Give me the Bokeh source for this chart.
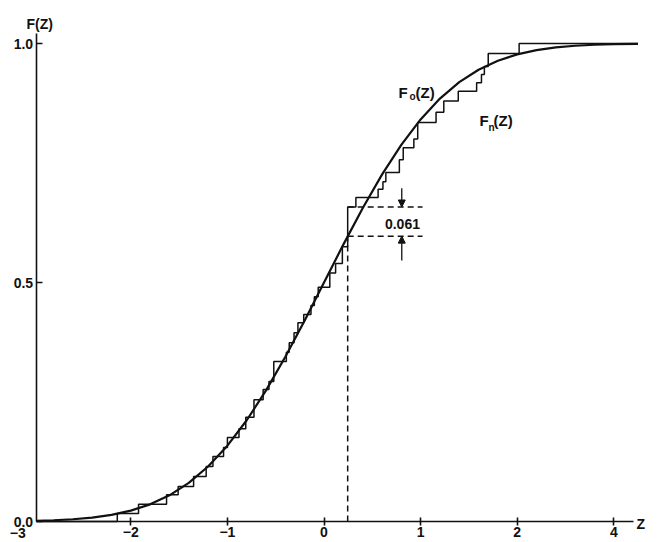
from bokeh.plotting import figure
from bokeh.models import Label, Arrow, NormalHead, FixedTicker, Range1d
from bokeh.embed import file_html
from bokeh.resources import INLINE

# ---------------- data ----------------
# F_o(Z): the smooth curve
curve_z = [-2.98, -2.8, -2.6, -2.4, -2.2, -2.0, -1.8, -1.6, -1.4, -1.2, -1.0, -0.8,
           -0.6, -0.4, -0.2, 0.0, 0.2, 0.4, 0.6, 0.8, 1.0, 1.2, 1.4, 1.6, 1.8, 2.0,
           2.2, 2.4, 2.6, 2.8, 3.0, 3.25]
curve_F = [0.0014, 0.0026, 0.0047, 0.0082, 0.0139, 0.0228, 0.0359, 0.0548, 0.0808,
           0.1151, 0.1587, 0.2119, 0.2743, 0.3446, 0.4207, 0.5, 0.5793, 0.6554,
           0.7257, 0.7881, 0.8413, 0.8849, 0.9192, 0.9452, 0.9641, 0.9772, 0.9861,
           0.9918, 0.9953, 0.9974, 0.9987, 0.9994]

# F_n(Z): empirical step function (jump positions and level after each jump)
step_z = [-2.14, -1.92, -1.63, -1.51, -1.35, -1.22, -1.15, -1.04, -1.00, -0.88,
          -0.81, -0.725, -0.63, -0.57, -0.52, -0.39, -0.36, -0.31, -0.27, -0.21,
          -0.135, -0.10, -0.06, 0.06, 0.12, 0.19, 0.245, 0.33, 0.56, 0.61, 0.64,
          0.78, 0.82, 0.93, 0.97, 1.16, 1.24, 1.39, 1.58, 1.63, 1.66, 1.70, 2.02]
step_F = [0.017, 0.036, 0.056, 0.073, 0.094, 0.115, 0.136, 0.155, 0.176, 0.194,
          0.218, 0.255, 0.276, 0.293, 0.335, 0.354, 0.374, 0.395, 0.416, 0.433,
          0.452, 0.470, 0.490, 0.520, 0.540, 0.575, 0.658, 0.678, 0.695, 0.711,
          0.730, 0.757, 0.782, 0.800, 0.835, 0.856, 0.880, 0.900, 0.918, 0.935,
          0.952, 0.979, 1.000]

x_ticks = [-2, -1, 0, 1, 2, 3]
x_tick_labels = ["\u22122", "\u22121", "0", "1", "2", "4"]
y_ticks = [0, 0.5, 1]
y_tick_labels = ["0.0", "0.5", "1.0"]

# maximum deviation marker
d_z = 0.245
d_F0 = 0.597
d_Fn = 0.658
d_z_end = 1.02
d_text = "0.061"
arrow_z = 0.805
arrow_top_start = 0.697
arrow_bot_start = 0.546

Z_AXIS_START, Z_AXIS_END = -2.98, 3.2
Z_CURVE_END = 3.25
F_AXIS_TOP = 1.02
FONT = "Liberation Sans"
INK = "#111111"

p = figure(width=659, height=542,
           x_range=Range1d(-3.349, 3.473), y_range=Range1d(-0.0439, 1.0900),
           output_backend="svg", toolbar_location=None,
           min_border_left=0, min_border_right=0, min_border_top=0, min_border_bottom=0)
p.outline_line_color = None
p.xgrid.visible = False
p.ygrid.visible = False
p.background_fill_color = "white"
p.border_fill_color = "white"

# axes (drawn at fixed positions inside the frame)
xa = p.xaxis[0]
xa.fixed_location = 0
xa.bounds = (Z_AXIS_START, Z_AXIS_END)
xa.ticker = FixedTicker(ticks=x_ticks)
xa.major_label_overrides = dict(zip(x_ticks, x_tick_labels))
xa.minor_tick_line_color = None
xa.major_tick_in = 4
xa.major_tick_out = 4
xa.major_label_standoff = 1
xa.axis_line_width = 1.6
xa.axis_line_color = INK
xa.major_tick_line_width = 1.6
xa.major_tick_line_color = INK
xa.major_label_text_font = FONT
xa.major_label_text_font_style = "bold"
xa.major_label_text_font_size = "14px"
xa.major_label_text_color = INK

ya = p.yaxis[0]
ya.fixed_location = Z_AXIS_START
ya.bounds = (0, F_AXIS_TOP)
ya.ticker = FixedTicker(ticks=y_ticks)
ya.major_label_overrides = dict(zip(y_ticks, y_tick_labels))
ya.minor_tick_line_color = None
ya.major_tick_in = 6
ya.major_tick_out = 0
ya.major_label_standoff = 3
ya.axis_line_width = 1.6
ya.axis_line_color = INK
ya.major_tick_line_width = 1.6
ya.major_tick_line_color = INK
ya.major_label_text_font = FONT
ya.major_label_text_font_style = "bold"
ya.major_label_text_font_size = "14px"
ya.major_label_text_color = INK

# curves
p.line(curve_z, curve_F, line_color=INK, line_width=2.2)
sx = [Z_AXIS_START] + step_z + [Z_CURVE_END]
sy = [0.0] + step_F + [1.0]
p.step(sx, sy, mode="after", line_color=INK, line_width=1.5)

# dashed deviation guides
p.line([d_z, d_z], [0, d_F0], line_color=INK, line_width=1.5, line_dash="6 4")
p.line([d_z, d_z_end], [d_F0, d_F0], line_color=INK, line_width=1.5, line_dash="6 4")
p.line([d_z, d_z_end], [d_Fn, d_Fn], line_color=INK, line_width=1.5, line_dash="6 4")

p.add_layout(Arrow(x_start=arrow_z, y_start=arrow_top_start, x_end=arrow_z, y_end=d_Fn,
                   line_color=INK, line_width=1.3,
                   end=NormalHead(size=7, fill_color=INK, line_color=INK)))
p.add_layout(Arrow(x_start=arrow_z, y_start=arrow_bot_start, x_end=arrow_z, y_end=d_F0,
                   line_color=INK, line_width=1.3,
                   end=NormalHead(size=7, fill_color=INK, line_color=INK)))

def lab(x, y, t, size="14px", align="left", base="alphabetic"):
    p.add_layout(Label(x=x, y=y, text=t, text_font=FONT, text_font_style="bold",
                       text_font_size=size, text_color=INK, text_align=align,
                       text_baseline=base))

lab(0.812, 0.623, d_text, "14px", "center", "middle")

# F_o(Z)
lab(0.771, 0.8975, "F", "15px")
lab(0.885, 0.889, "o", "10px")
lab(0.947, 0.8975, "(Z)", "15px")
# F_n(Z)
lab(1.61, 0.839, "F", "15px")
lab(1.703, 0.824, "n", "10px")
lab(1.755, 0.839, "(Z)", "15px")

# axis titles and corner tick label
lab(-3.08, 1.040, "F(Z)", "14px")
lab(3.235, -0.006, "Z", "14px", "left", "middle")
lab(-3.17, -0.0134, "\u22123", "14px", "center", "top")

open("out.html", "w").write(file_html(p, INLINE))
